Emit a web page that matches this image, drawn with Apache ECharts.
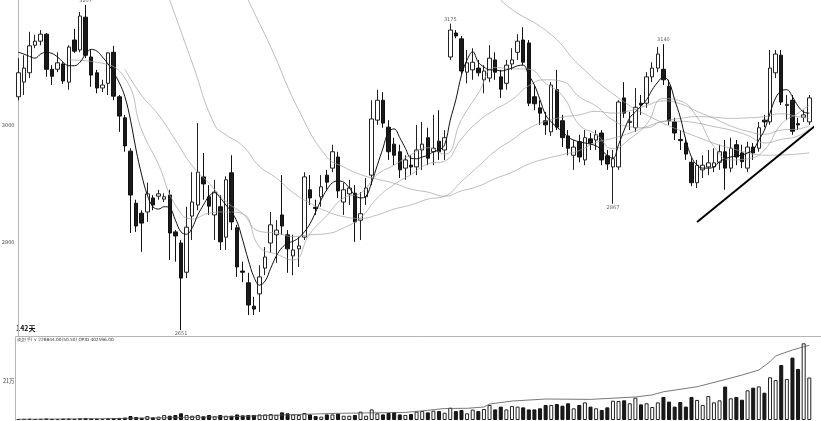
<!DOCTYPE html>
<html><head><meta charset="utf-8">
<script src="https://cdn.jsdelivr.net/npm/echarts@6/dist/echarts.min.js"></script>
<style>html,body{margin:0;padding:0;background:#fff}#c{width:821px;height:421px}</style>
</head><body><div id="c"></div>
<script>
const dayCount = 142;
const categories = Array.from({length: dayCount}, (_, i) => String(i + 1));

const opens = [3050,3075,3091,3138,3145,3157,3097,3097,3106,3075,3147,3130,3186,3118,3091,3065,3073,3126,3050,3014,
2957,2868,2851,2853,2877,2880,2875,2882,2819,2800,2750,2846,2865,2913,2879,2848,2862,2810,2920,2826,
2752,2732,2692,2713,2757,2800,2814,2848,2814,2778,2790,2810,2891,2861,2879,2916,2928,2947,2870,2884,
2885,2839,2879,2916,3010,3044,2998,2969,2956,2928,2933,2930,2959,2980,2956,2974,2959,3118,3159,3149,
3092,3096,3099,3079,3082,3113,3084,3073,3106,3126,3147,3142,3050,3031,3009,2990,3062,3009,2983,2950,
2973,2942,2978,2976,2988,2949,2930,2930,3048,3006,2997,3039,3039,3084,3099,3097,3068,3007,2977,2971,
2938,2903,2925,2930,2930,2938,2956,2928,2968,2954,2928,2964,2962,3010,3007,3091,3121,3035,3044,3004,
3015,3007];
const closes = [3091,3099,3137,3145,3157,3097,3085,3108,3077,3135,3128,3188,3121,3087,3065,3070,3125,3051,3017,2966,
2882,2829,2834,2884,2865,2884,2879,2817,2812,2740,2827,2870,2921,2901,2863,2887,2802,2908,2836,2759,
2750,2694,2687,2742,2776,2831,2822,2829,2790,2788,2795,2913,2877,2859,2896,2904,2956,2889,2891,2894,
2836,2850,2894,3012,3044,3005,2956,2950,2925,2942,2930,2959,2969,2945,2962,2956,2980,3164,3154,3094,
3108,3109,3091,3094,3116,3092,3063,3104,3113,3145,3109,3039,3038,3022,3002,3070,2998,2980,2962,2964,
2947,2980,2971,2985,2942,2935,2944,3041,3022,3008,3032,3036,3084,3099,3123,3079,3009,2988,2975,2952,
2903,2933,2933,2937,2937,2956,2928,2962,2947,2939,2964,2954,2997,3007,3099,3123,3041,3037,2991,3002,
3019,3048];
const lows = [3044,3053,3082,3133,3138,3084,3070,3092,3072,3062,3125,3126,3116,3067,3056,3058,3053,3044,2990,2956,
2817,2819,2785,2836,2856,2874,2870,2771,2768,2651,2740,2805,2856,2874,2848,2805,2788,2788,2822,2742,
2733,2677,2677,2682,2745,2783,2766,2814,2749,2745,2759,2805,2865,2848,2862,2891,2921,2877,2848,2865,
2802,2805,2865,2899,3002,2997,2942,2933,2911,2908,2916,2916,2925,2933,2933,2942,2942,3113,3150,3089,
3073,3079,3085,3056,3075,3079,3048,3062,3096,3113,3104,3034,3027,3002,2985,2983,2993,2964,2950,2925,
2938,2933,2959,2959,2933,2925,2867,2925,3014,2993,2990,3019,3031,3075,3092,3070,3002,2976,2959,2942,
2897,2894,2911,2916,2921,2925,2891,2921,2933,2928,2921,2942,2956,2998,3002,3082,3036,3010,2985,2993,
3007,3002];
const highs = [3116,3121,3161,3156,3164,3159,3104,3126,3109,3138,3166,3195,3207,3130,3096,3079,3126,3137,3053,3019,
2962,2874,2856,2903,2882,2891,2885,2891,2822,2805,2862,2921,3005,2954,2899,2908,2882,2914,2950,2831,
2768,2749,2708,2762,2793,2853,2839,2916,2822,2814,2810,2921,2916,2874,2916,2925,2968,2956,2903,2908,
2899,2887,2911,3044,3062,3058,3010,2980,2968,2950,2950,3002,3007,2997,3019,3027,2993,3175,3164,3154,
3130,3133,3113,3104,3138,3126,3096,3113,3133,3157,3169,3147,3070,3044,3024,3075,3096,3019,2993,2976,
2985,2993,2988,2993,2993,2959,2959,3044,3075,3024,3065,3053,3092,3109,3135,3140,3079,3014,2993,2980,
2945,2942,2950,2959,2962,2968,2976,2980,2976,2968,2973,2971,3007,3019,3130,3130,3130,3053,3053,3014,
3027,3053];
const volumes = [5000,6000,7000,5000,6000,8000,6000,5000,7000,8000,
6000,9000,10000,8000,7000,6000,9000,10000,11000,13000,
21500,16000,12000,21000,14000,18000,27000,23000,27000,36000,
27000,23000,27000,20000,27000,20000,27000,23000,23000,30000,
25000,27000,27000,30000,30000,32000,28000,41000,36000,30000,
27000,38000,30000,21000,18000,30000,30000,34000,23000,23000,
27000,45000,23000,57000,36000,30000,38000,41000,30000,27000,
32000,45000,48000,41000,50000,48000,39000,66000,48000,54000,
36000,56000,48000,59000,81000,57000,72000,57000,75000,72000,
68000,57000,57000,63000,81000,81000,86000,77000,90000,63000,
81000,95000,72000,63000,54000,68000,104000,102000,106000,90000,
120000,84000,90000,70000,95000,124000,99000,72000,97000,72000,
124000,108000,81000,129000,95000,106000,180000,117000,124000,109000,
160000,174000,181000,147000,230000,215000,296000,221000,336000,275000,
413000,228844];
const ma5 = [3126,3123,3119,3116,3123,3126,3124,3118,3109,3103,
3103,3109,3123,3131,3128,3118,3106,3091,3074,3050,
3010,2959,2916,2882,2862,2858,2862,2860,2839,2819,
2815,2826,2848,2865,2880,2886,2877,2865,2853,2836,
2805,2771,2742,2728,2735,2757,2778,2792,2800,2803,
2809,2819,2833,2853,2874,2891,2903,2906,2904,2894,
2882,2877,2880,2904,2933,2962,2990,2995,2980,2962,
2945,2944,2947,2950,2956,2959,2968,3010,3045,3087,
3113,3127,3109,3101,3096,3096,3094,3096,3099,3103,
3104,3087,3070,3045,3019,3007,2998,2990,2981,2976,
2973,2971,2969,2966,2959,2949,2945,2968,2993,3014,
3024,3034,3045,3062,3075,3084,3075,3045,3015,2976,
2947,2933,2928,2928,2930,2939,2944,2947,2949,2950,
2954,2959,2976,2993,3022,3048,3060,3062,3050,3034,
3024,3022];
const ma10Pts = [[9,3113],[14,3109],[19,3082],[22,2993],[25,2934],[28,2865],[31,2841],[34,2851],[37,2853],[40,2850],
[43,2793],[46,2781],[49,2771],[52,2816],[55,2847],[58,2877],[61,2885],[64,2917],[67,2933],[70,2951],
[73,2963],[76,2952],[79,3011],[82,3056],[85,3100],[88,3098],[91,3097],[94,3073],[97,3052],[100,3002],
[103,2986],[106,2961],[109,2978],[112,3003],[115,3047],[118,3043],[121,3015],[124,2965],[127,2942],[130,2944],
[133,2959],[136,3003],[139,3022],[141,3036]];
const ma20Pts = [[19,3097],[22,3052],[25,3019],[28,2976],[31,2932],[34,2902],[37,2871],[40,2850],[43,2820],[46,2817],
[49,2811],[52,2814],[55,2816],[58,2826],[61,2843],[64,2877],[67,2900],[70,2917],[73,2935],[76,2940],
[79,2978],[82,3008],[85,3028],[88,3045],[91,3069],[94,3079],[97,3076],[100,3050],[103,3034],[106,3010],
[109,2999],[112,2997],[115,3008],[118,3008],[121,3005],[124,2999],[127,2993],[130,2984],[133,2971],[136,2977],
[139,2983],[141,2995]];
const ma40Pts = [[25,3267],[27,3215],[31,3108],[35,3002],[37,2985],[40,2966],[43,2931],[46,2911],[49,2886],[52,2868],
[55,2854],[58,2845],[61,2842],[64,2848],[67,2858],[70,2865],[73,2875],[76,2880],[79,2905],[82,2931],
[85,2957],[88,2976],[91,2996],[94,3008],[97,3015],[100,3019],[103,3025],[106,3022],[109,3026],[112,3035],
[115,3043],[118,3038],[121,3025],[124,3013],[127,3000],[130,2991],[133,2986],[136,2993],[139,2995],[141,3000]];
const ma60Pts = [[39,3258],[41,3215],[45,3135],[50,3027],[55,2947],[58,2930],[61,2917],[64,2909],[67,2902],[70,2892],
[73,2887],[76,2880],[79,2889],[82,2897],[85,2910],[88,2921],[91,2935],[94,2944],[97,2951],[100,2958],
[103,2972],[106,2979],[109,2988],[112,2999],[115,3008],[118,3013],[121,3016],[124,3015],[127,3013],[130,3014],
[133,3016],[136,3021],[139,3016],[141,3013]];
const ma120Pts = [[85,3241],[86,3215],[95,3156],[100,3104],[107,3048],[113,3014],[120,2985],[127,2962],[134,2950],[141,2954]];
const oiPts = [[0,3800],[15,7000],[26,12000],[38,18000],[47,27000],[57,36000],[69,41000],[73,52000],[76,62000],[80,63000],
[83,70000],[84,86000],[88,102000],[94,113000],[102,111000],[110,124000],[113,135000],[115,152000],[121,179000],[126,218000],
[129,242000],[132,269000],[134,314000],[135,345000],[138,377000],[141,402596]];
const markIdx = [12, 77, 115, 106, 29];
const markVal = [3207, 3175, 3140, 2867, 2651];
const trendPts = [[121, 2836], [142, 3000]];
const priceTicks = [2800, 3000];
const volTicks = [210000];

function sparse(pts) {
  const a = new Array(dayCount).fill(null);
  pts.forEach(p => { a[p[0]] = p[1]; });
  return a;
}
const candleData = opens.map((o, i) => [o, closes[i], lows[i], highs[i]]);
const upStyle = {color: '#fff', borderColor: '#222', borderWidth: 1};
const downStyle = {color: '#1a1a1a', borderColor: '#111', borderWidth: 1};
const volData = volumes.map((v, i) => ({value: v, itemStyle: closes[i] >= opens[i] ? upStyle : downStyle}));
const markData = markIdx.map((idx, k) => ({
  value: [idx, markVal[k]],
  label: {position: markVal[k] >= highs[idx] ? 'top' : 'bottom', distance: 1}
}));
const oiLast = oiPts[oiPts.length - 1][1];
const header = '成交(手) ∨ ' + volumes[dayCount - 1].toFixed(2) + '(50.50) OPID ' + oiLast.toFixed(2);

const grayLine = {color: '#a0a0a0', width: 0.7};
function maSeries(pts) {
  return {type: 'line', xAxisIndex: 0, yAxisIndex: 0, data: sparse(pts), connectNulls: true, smooth: true,
    symbol: 'none', lineStyle: grayLine, silent: true};
}

const chart = echarts.init(document.getElementById('c'), null, {renderer: 'canvas'});
chart.setOption({
  animation: false,
  backgroundColor: '#fff',
  textStyle: {fontFamily: 'DejaVu Sans'},
  grid: [
    {left: 15.5, width: 796.6, top: 0, height: 336, containLabel: false, outerBoundsMode: 'none'},
    {left: 15.5, width: 796.6, top: 337, height: 83, containLabel: false, outerBoundsMode: 'none'}
  ],
  xAxis: [
    {type: 'category', gridIndex: 0, data: categories, boundaryGap: true,
      axisLine: {show: false}, axisTick: {show: false}, axisLabel: {show: false}, splitLine: {show: false}},
    {type: 'category', gridIndex: 1, data: categories, boundaryGap: true,
      axisLine: {show: false}, axisTick: {show: false}, axisLabel: {show: false}, splitLine: {show: false}},
    {type: 'value', gridIndex: 0, min: -0.5, max: dayCount - 0.5, show: false}
  ],
  yAxis: [
    {type: 'value', gridIndex: 0, min: 2641, max: 3215.4,
      splitLine: {show: false}, axisTick: {show: false},
      axisLine: {show: true, lineStyle: {color: '#b5b5b5', width: 1}},
      axisLabel: {customValues: priceTicks, fontSize: 5, color: '#444', margin: 1, formatter: v => String(v)}},
    {type: 'value', gridIndex: 1, min: 0, max: 447000,
      splitLine: {show: false}, axisTick: {show: false},
      axisLine: {show: true, lineStyle: {color: '#b5b5b5', width: 1}},
      axisLabel: {customValues: volTicks, fontSize: 5.5, color: '#444', margin: 1,
        fontFamily: 'Noto Sans CJK SC', formatter: v => (v / 10000) + '万'}}
  ],
  graphic: [
    {type: 'line', shape: {x1: 15.5, y1: 336.5, x2: 821, y2: 336.5}, style: {stroke: '#b5b5b5', lineWidth: 1}, silent: true},
    {type: 'text', left: 16, top: 325, style: {text: '142天', font: 'bold 7px "Noto Sans CJK SC"', fill: '#111'}, silent: true},
    {type: 'text', left: 17, top: 338, style: {text: header, font: '4.3px "DejaVu Sans"', fill: '#333'}, silent: true}
  ],
  series: [
    {type: 'candlestick', xAxisIndex: 0, yAxisIndex: 0, data: candleData, barWidth: 4,
      itemStyle: {color: '#fff', color0: '#1a1a1a', borderColor: '#222', borderColor0: '#111', borderWidth: 1}},
    maSeries(ma120Pts),
    maSeries(ma60Pts),
    maSeries(ma40Pts),
    maSeries(ma20Pts),
    maSeries(ma10Pts),
    {type: 'line', xAxisIndex: 0, yAxisIndex: 0, data: ma5, smooth: 0.4, symbol: 'none',
      lineStyle: {color: '#111', width: 1}, silent: true},
    {type: 'scatter', xAxisIndex: 0, yAxisIndex: 0, data: markData, symbolSize: 1, z: 10,
      itemStyle: {color: 'rgba(0,0,0,0)'},
      label: {show: true, formatter: p => String(p.value[1]), fontSize: 5, color: '#333'}},
    {type: 'line', xAxisIndex: 2, yAxisIndex: 0, data: trendPts, symbol: 'none', clip: false,
      lineStyle: {color: '#000', width: 2}, silent: true},
    {type: 'bar', xAxisIndex: 1, yAxisIndex: 1, data: volData, barWidth: 4},
    {type: 'line', xAxisIndex: 1, yAxisIndex: 1, data: sparse(oiPts), connectNulls: true, symbol: 'none',
      lineStyle: {color: '#555', width: 0.8}, silent: true}
  ]
});
</script>
</body></html>
